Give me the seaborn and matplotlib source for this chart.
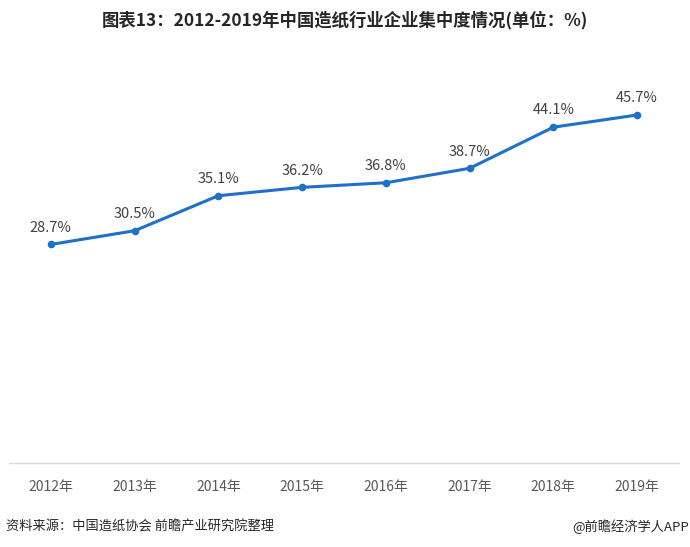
import matplotlib
matplotlib.use("Agg")
import matplotlib.pyplot as plt
import seaborn as sns
import pandas as pd

years = ["2012年", "2013年", "2014年", "2015年", "2016年", "2017年", "2018年", "2019年"]
values = [28.7, 30.5, 35.1, 36.2, 36.8, 38.7, 44.1, 45.7]
labels = ["28.7%", "30.5%", "35.1%", "36.2%", "36.8%", "38.7%", "44.1%", "45.7%"]

sns.set_theme(style="white")
plt.rcParams['font.family'] = ['Noto Sans CJK SC', 'DejaVu Sans']

df = pd.DataFrame({"year": years, "value": values})

fig = plt.figure(figsize=(6.9, 5.47), dpi=100)
ax = fig.add_axes([0.013, 0.1536, 0.971, 0.696])

line_color = "#1F70C8"
sns.lineplot(data=df, x="year", y="value", ax=ax, color=line_color, linewidth=2.2,
             marker="o", markersize=5.5, markeredgewidth=0, sort=False)

for i, (v, t) in enumerate(zip(values, labels)):
    ax.annotate(t, (i, v), xytext=(0, 7), textcoords="offset points",
                ha="center", va="bottom", fontsize=10.5, color="#404040")

ax.set_xlim(-0.5, len(years) - 0.5)
ax.set_ylim(0, 50)
ax.set_xlabel("")
ax.set_ylabel("")
ax.set_yticks([])
for s in ["top", "left", "right"]:
    ax.spines[s].set_visible(False)
ax.spines["bottom"].set_color("#D9D9D9")
ax.spines["bottom"].set_linewidth(1)
ax.tick_params(axis="x", length=0, pad=12, labelsize=10, labelcolor="#595959")

fig.text(0.5, 0.963, "图表13：2012-2019年中国造纸行业企业集中度情况(单位：%)",
         ha="center", va="center", fontsize=12.5, fontweight="bold", color="#262626")
fig.text(0.008, 0.037, "资料来源：中国造纸协会 前瞻产业研究院整理",
         ha="left", va="center", fontsize=9.5, color="#262626")
fig.text(0.998, 0.037, "@前瞻经济学人APP",
         ha="right", va="center", fontsize=9.5, color="#262626")

fig.savefig("out.png", dpi=100)
